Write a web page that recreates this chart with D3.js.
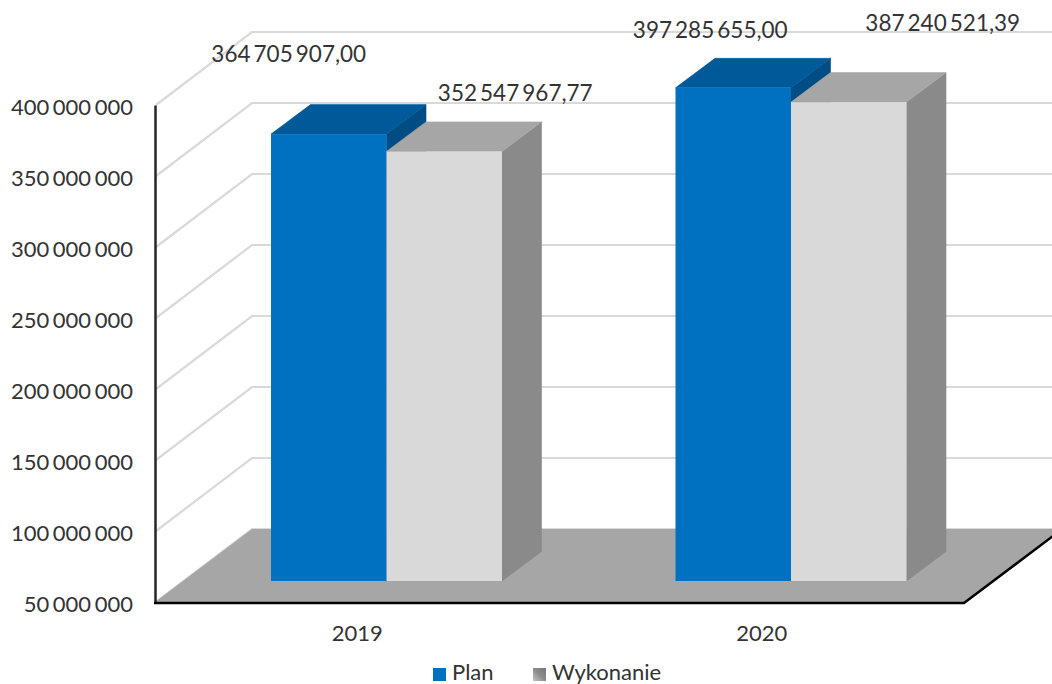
<!DOCTYPE html>
<html lang="pl">
<head>
<meta charset="utf-8">
<script src="https://cdn.jsdelivr.net/npm/d3@7"></script>
<style>
html,body{margin:0;padding:0;background:#fff}
svg{display:block}
text{font-family:Lato,"Open Sans",sans-serif;fill:#333}
</style>
</head>
<body>
<svg id="chart" width="1052" height="684"></svg>
<script>
const categories = ["2019", "2020"];
const seriesNames = ["Plan", "Wykonanie"];
const planValues = [364705907.00, 397285655.00];
const wykonanieValues = [352547967.77, 387240521.39];
const tickValues = [50000000, 100000000, 150000000, 200000000, 250000000, 300000000, 350000000, 400000000];

const W = 1052, H = 684;
const wallDx = 97, wallDy = -73;      // wall depth
const floorDx = 28, floorDy = -21;    // bar plane inside the floor
const barDx = 39.5, barDy = -29.5;    // bar depth

const fills = {
  Plan:      {front:"#0070c0", top:"#005a9a", side:"#004c85"},
  Wykonanie: {front:"#d9d9d9", top:"#a6a6a6", side:"#8a8a8a"}
};

const loc = d3.formatLocale({decimal:",", thousands:"\u00a0", grouping:[3], currency:["",""]});
const fmtTick = loc.format(",.0f"), fmtVal = loc.format(",.2f");

const y = d3.scaleLinear().domain([50000000, 400000000]).range([602, 105]);
const xCat = d3.scaleBand().domain(categories).range([155, 964]);
const xSer = d3.scaleBand().domain(seriesNames).range([88, 319]);

const svg = d3.select("#chart");
const defs = svg.append("defs");
const g = defs.append("linearGradient").attr("id","lg").attr("x1",0).attr("y1",1).attr("x2",1).attr("y2",0);
g.append("stop").attr("offset",0).attr("stop-color","#c4c4c4");
g.append("stop").attr("offset",.5).attr("stop-color","#8c8c8c");
g.append("stop").attr("offset",1).attr("stop-color","#767676");

const pts = a => a.map(p => p.join(",")).join(" ");

// walls' gridlines
const grid = svg.append("g").attr("fill","none").attr("stroke","#d9d9d9").attr("stroke-width",2.2);
tickValues.forEach(t => {
  grid.append("polyline").attr("points", pts([
    [xCat.range()[0] + 1, y(t)],
    [xCat.range()[0] + wallDx, y(t) + wallDy],
    [W, y(t) + wallDy]
  ]));
});

// floor
const x0 = xCat.range()[0], x1 = xCat.range()[1], yB = y(tickValues[0]);
svg.append("polygon").attr("fill","#a6a6a6").attr("points", pts([
  [x0, yB], [x0 + wallDx, yB + wallDy], [x1 + wallDx, yB + wallDy], [x1, yB]
]));

// bars
const rows = categories.flatMap((c, i) => [
  {c, s:"Plan", v:planValues[i]},
  {c, s:"Wykonanie", v:wykonanieValues[i]}
]);
const barG = svg.append("g");
rows.forEach(d => {
  const f = fills[d.s];
  const l = xCat(d.c) + xSer(d.s) + floorDx, r = l + xSer.bandwidth();
  const t = y(d.v) + floorDy, b = yB + floorDy;
  barG.append("polygon").attr("fill", f.side).attr("stroke", f.side).attr("stroke-width",.6).attr("points", pts([
    [r,t],[r+barDx,t+barDy],[r+barDx,b+barDy],[r,b]]));
  barG.append("polygon").attr("fill", f.top).attr("stroke", f.top).attr("stroke-width",.6).attr("points", pts([
    [l,t],[l+barDx,t+barDy],[r+barDx,t+barDy],[r,t]]));
  barG.append("rect").attr("fill", f.front).attr("x",l).attr("y",t).attr("width",r-l).attr("height",b-t);
});

// axes
const yAxis = svg.append("g").attr("transform",`translate(${x0},0)`)
  .call(d3.axisLeft(y).tickValues(tickValues).tickFormat(fmtTick).tickSize(0).tickPadding(22));
yAxis.select(".domain").attr("stroke","#262626").attr("stroke-width",2.5);
yAxis.selectAll("text").attr("font-size",22).attr("dy","0.42em").attr("word-spacing","-2px")
  .style("font-family","Lato").attr("fill","#333");

const xAxis = svg.append("g").attr("transform",`translate(0,${yB})`)
  .call(d3.axisBottom(xCat).tickSize(0).tickPadding(23));
xAxis.select(".domain").remove();
xAxis.selectAll("text").attr("font-size",22).attr("fill","#333");

// floor front edges
svg.append("polyline").attr("fill","none").attr("stroke","#000").attr("stroke-width",2.5).attr("points", pts([
  [x0 - 1, yB + 1], [x1, yB + 1], [x1 + wallDx, yB + 1 + wallDy]
]));

// data labels (hand-placed in the original)
const labelShift = {
  "2019|Plan":[-40,-72], "2019|Wykonanie":[71,-50],
  "2020|Plan":[-23,-50], "2020|Wykonanie":[94,-71]
};
svg.append("g").selectAll("text").data(rows).join("text")
  .attr("text-anchor","middle").attr("font-size",22.5).attr("word-spacing","-2.7px")
  .attr("x", d => xCat(d.c) + xSer(d.s) + floorDx + xSer.bandwidth()/2 + labelShift[d.c+"|"+d.s][0])
  .attr("y", d => y(d.v) + floorDy + labelShift[d.c+"|"+d.s][1])
  .text(d => fmtVal(d.v));

// legend
const legend = [
  {s:"Plan", sx:433, tx:452, fill:"#0070c0"},
  {s:"Wykonanie", sx:533, tx:552, fill:"url(#lg)"}
];
const lg = svg.append("g");
legend.forEach(l => {
  lg.append("rect").attr("x",l.sx).attr("y",668).attr("width",13).attr("height",13).attr("fill",l.fill);
  lg.append("text").attr("x",l.tx).attr("y",679.5).attr("font-size",22).text(l.s);
});
</script>
</body>
</html>
